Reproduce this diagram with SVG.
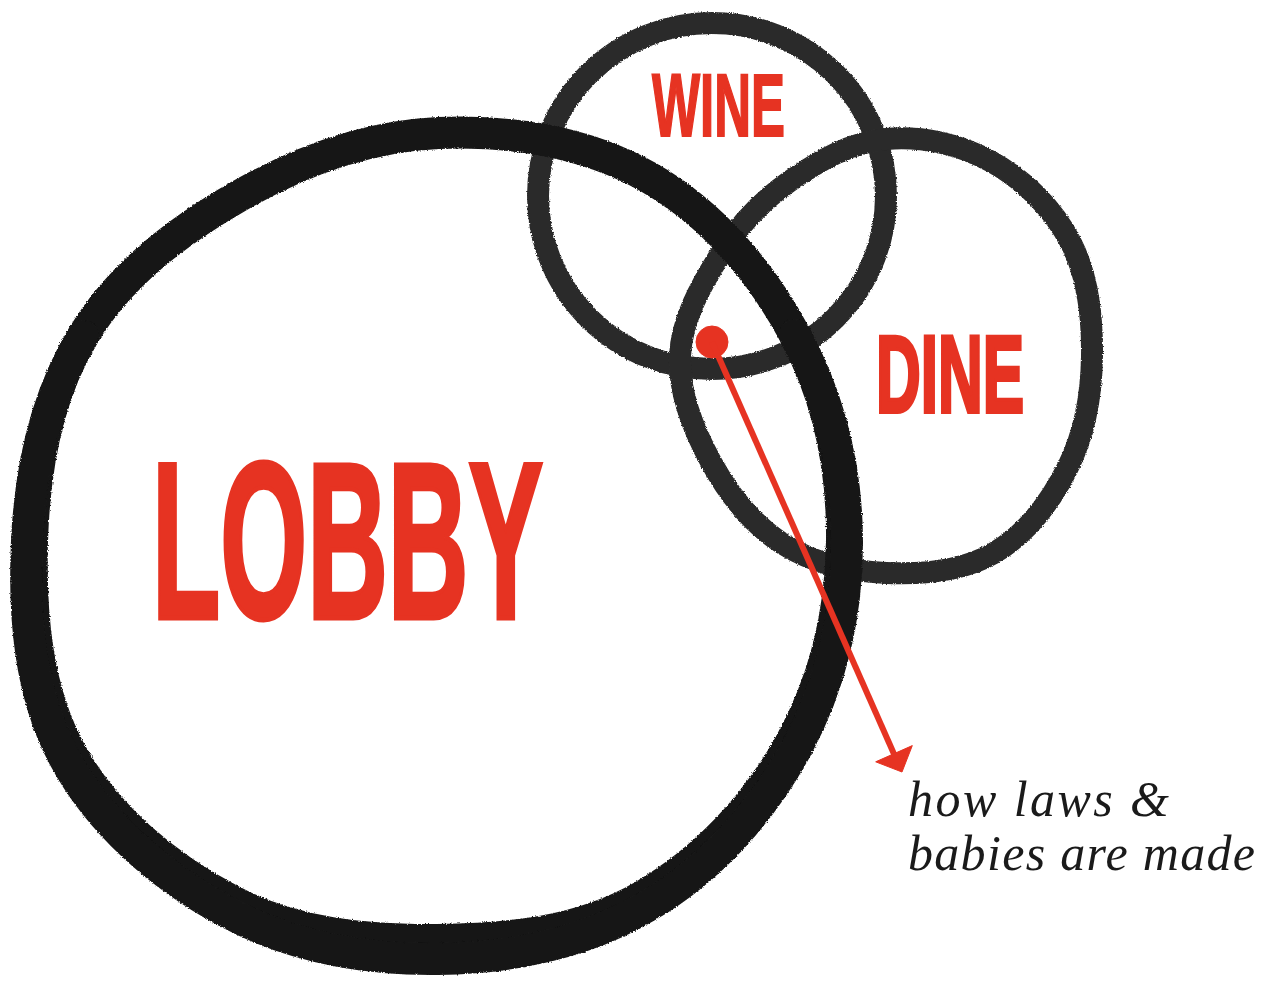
<svg xmlns="http://www.w3.org/2000/svg" width="1270" height="981" viewBox="0 0 1270 981">
  <style>
    .ring { fill: none; stroke-linejoin: round; stroke-linecap: round; filter: url(#ink); }
    .big { stroke: #161616; stroke-width: 32; }
    .small { stroke: #2b2b2b; stroke-width: 22; }
    .label { fill: #e63322; stroke: #e63322; font-family: "Liberation Sans Narrow", "Liberation Sans", Arial, sans-serif; font-weight: bold; }
    .note { fill: #1a1a1a; font-family: "Liberation Serif", "Times New Roman", serif; font-style: italic; font-size: 50px; }
    .red { stroke: #e63322; fill: #e63322; }
  </style>
  <defs>
    <filter id="ink" x="-5%" y="-5%" width="110%" height="110%">
      <feTurbulence type="fractalNoise" baseFrequency="0.8" numOctaves="2" seed="3" result="noise"/>
      <feDisplacementMap in="SourceGraphic" in2="noise" scale="3" xChannelSelector="R" yChannelSelector="G"/>
    </filter>
  </defs>
  <rect width="1270" height="981" fill="#ffffff"/>

  <g id="wine">
    <ellipse class="ring small" cx="712" cy="196" rx="174" ry="173"/>
    <text class="label" x="652" y="136" font-size="89" stroke-width="2" textLength="133" lengthAdjust="spacingAndGlyphs">WINE</text>
  </g>

  <g id="dine">
    <path class="ring small" d="M 1092 356 C 1091.5 395.3, 1085.2 432.4, 1068 467 C 1050.8 501.6, 1025.9 534.4, 994 553 C 962.1 571.6, 923 574.6, 886 573 C 849 571.4, 813.7 563.5, 783 544 C 752.3 524.5, 729.1 495, 711 462 C 692.9 429, 678.4 392.3, 680 356 C 681.6 319.7, 700.7 285.7, 720 255 C 739.3 224.3, 760.9 201.4, 790 181 C 819.1 160.6, 850.6 142.3, 886 139 C 921.4 135.7, 959.5 143.8, 992 162 C 1024.5 180.2, 1053.5 209, 1071 243 C 1088.5 277, 1092.5 316.7, 1092 356 Z"/>
    <text class="label" x="876" y="412" font-size="110" stroke-width="4" textLength="148" lengthAdjust="spacingAndGlyphs">DINE</text>
  </g>

  <g id="lobby">
    <path class="ring big" d="M 842 541 C 841.1 612.8, 824.9 681.7, 790 744 C 755.1 806.3, 704.8 860.2, 643 896 C 581.2 931.8, 510.5 939.3, 438 940 C 365.5 940.7, 294.4 934.2, 230 900 C 165.6 865.8, 105.7 816, 71 753 C 36.3 690, 29.9 614.2, 32 541 C 34.1 467.8, 46.7 396.5, 83 336 C 119.3 275.5, 176.7 231.6, 239 196 C 301.3 160.4, 366.2 136.3, 438 133 C 509.8 129.7, 585.4 141.6, 648 177 C 710.6 212.4, 761 271.1, 795 335 C 829 398.9, 842.9 469.2, 842 541 Z"/>
    <path class="ring big" d="M 795 335 C 829.9 398.9, 846.7 468.5, 847 541 C 847.3 613.5, 831.3 684, 796.5 748 C 761.7 812, 711.4 868.2, 648.5 905.6 C 585.6 943, 512.4 958.1, 438 959 C 363.6 959.9, 290.1 946.6, 224.5 910.8 C 158.9 875, 98.5 821.9, 63.9 757 C 29.3 692.1, 23.6 614.9, 27 541 C 30.4 467.1, 45.8 396.5, 83 336"/>
    <text class="label" x="152" y="618" font-size="223" stroke-width="5" textLength="391" lengthAdjust="spacingAndGlyphs">LOBBY</text>
  </g>

  <g id="connectors">
    <circle class="red" cx="712" cy="342" r="16" stroke="none"/>
    <line class="red" x1="712" y1="342" x2="894" y2="754" stroke-width="6"/>
    <polygon class="red" stroke="none" points="902,772 912.3,745.6 875.7,761.8"/>
  </g>

  <g id="note">
    <text class="note" x="908" y="816" textLength="261" lengthAdjust="spacing">how laws &amp;</text>
    <text class="note" x="908" y="870" textLength="347" lengthAdjust="spacing">babies are made</text>
  </g>
</svg>
